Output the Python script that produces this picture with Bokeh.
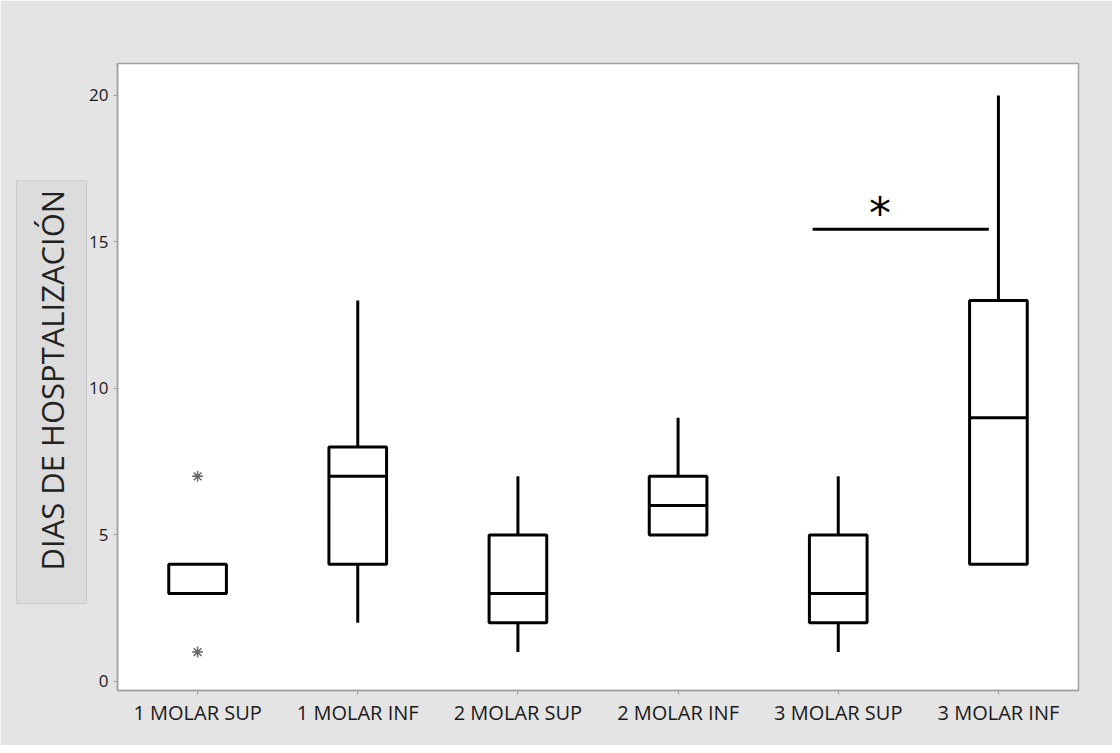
import math
from bokeh.plotting import figure
from bokeh.models import ColumnDataSource, FactorRange, Range1d, Title, FixedTicker
from bokeh.core.properties import value
from bokeh.embed import file_html
from bokeh.resources import INLINE

categories = ["1 MOLAR SUP", "1 MOLAR INF", "2 MOLAR SUP", "2 MOLAR INF", "3 MOLAR SUP", "3 MOLAR INF"]
q1 = [3, 4, 2, 5, 2, 4]
median = [3, 7, 3, 6, 3, 9]
q3 = [4, 8, 5, 7, 5, 13]
whisker_low = [3, 2, 1, 5, 1, 4]
whisker_high = [4, 13, 7, 9, 7, 20]
outlier_cat = ["1 MOLAR SUP", "1 MOLAR SUP"]
outlier_val = [7, 1]
sig_from = ("3 MOLAR SUP", -0.16)
sig_to = ("3 MOLAR INF", -0.06)
sig_y = 15.43
y_ticks = [0, 5, 10, 15, 20]

FONT = "Open Sans"
BG = "#e4e4e4"

p = figure(x_range=FactorRange(*categories, range_padding=0), y_range=Range1d(-0.31, 21.09),
           width=1112, height=745, output_backend="svg", toolbar_location=None,
           min_border_left=117, min_border_top=63, min_border_right=34, min_border_bottom=55)
p.background_fill_color = "white"
p.border_fill_color = BG
p.outline_line_color = "#a0a0a0"
p.outline_line_width = 1.5
p.xgrid.visible = False
p.ygrid.visible = False

for ax in (p.xaxis[0], p.yaxis[0]):
    ax.axis_line_color = "#a0a0a0"
    ax.axis_line_width = 1.5
    ax.major_tick_line_color = "#a0a0a0"
    ax.major_tick_out = 4
    ax.major_tick_in = 0
    ax.minor_tick_line_color = None
    ax.major_label_text_font = FONT
    ax.major_label_text_color = "#1a1a1a"
p.yaxis.ticker = FixedTicker(ticks=y_ticks)
p.yaxis.major_label_text_font_size = "17px"
p.xaxis.major_label_text_font_size = "20px"
p.yaxis.major_label_standoff = 5
p.xaxis.major_label_standoff = 4

med_left = [(c, -0.18) for c in categories]
med_right = [(c, 0.18) for c in categories]
src = ColumnDataSource(dict(cat=categories, q1=q1, med=median, q3=q3, lo=whisker_low,
                            hi=whisker_high, ml=med_left, mr=med_right))

# whiskers
p.segment(x0="cat", y0="q3", x1="cat", y1="hi", source=src, line_color="black", line_width=3)
p.segment(x0="cat", y0="lo", x1="cat", y1="q1", source=src, line_color="black", line_width=3)
# boxes
p.vbar(x="cat", bottom="q1", top="q3", width=0.36, source=src, fill_color="white",
       line_color="black", line_width=3)
# medians
p.segment(x0="ml", y0="med", x1="mr", y1="med", source=src, line_color="black", line_width=3)

# outliers
p.scatter(x=outlier_cat, y=outlier_val, marker="asterisk", size=11, line_color="#666666",
          line_width=1.5)

# significance bar
p.segment(x0=[sig_from], y0=[sig_y], x1=[sig_to], y1=[sig_y], line_color="black", line_width=3)
p.text(x=[("3 MOLAR SUP", 0.26)], y=[sig_y - 0.34], text=["*"], text_font=value("DejaVu Sans"),
       text_font_size="44px", text_align="center", text_baseline="bottom", text_color="black")

# y axis title in a box
ttl = Title(text="DIAS DE HOSPTALIZACIÓN", align="left", text_font=FONT,
            text_font_size="31px", text_font_style="normal", text_color="#222222",
            background_fill_color="#dcdcdc", border_line_color="#cccccc",
            padding=dict(left=33, right=9, top=14, bottom=14), offset=87, standoff=0)
p.add_layout(ttl, "left")

open("out.html", "w").write(file_html(p, INLINE))
